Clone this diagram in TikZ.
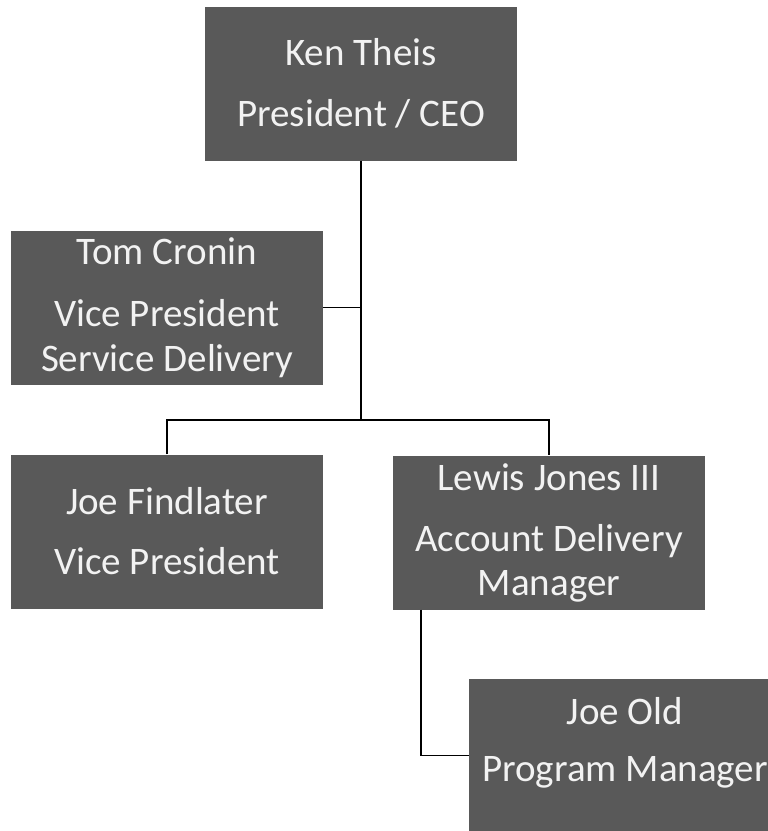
\documentclass[tikz,border=0pt]{standalone}
\usepackage{fontspec}
\setmainfont{Carlito}
\definecolor{boxgray}{HTML}{595959}
\definecolor{boxtext}{HTML}{F2F2F2}
\tikzset{
  orgbox/.style={draw=none, fill=boxgray, text=boxtext, minimum width=312pt, minimum height=154pt,
    align=center, inner sep=0pt, font=\fontsize{39}{47}\selectfont},
  conn/.style={draw=black, line width=1.6pt}
}
\begin{document}
\begin{tikzpicture}[x=1pt,y=-1pt]
\useasboundingbox (0,0) rectangle (768,831);
\clip (0,0) rectangle (768,831);
\node[orgbox] (ken) at (361,83.5) {Ken Theis\\[14pt]President / CEO};
\node[orgbox] (tom) at (167,307.5) {Tom Cronin\\[15pt]Vice President\\[-2pt]Service Delivery};
\node[orgbox] (joef) at (167,531.5) {Joe Findlater\\[13pt]Vice President};
\node[orgbox] (lewis) at (549,532.5) {Lewis Jones III\\[14pt]Account Delivery\\[-3pt]Manager};
\node[orgbox] (joeo) at (625,755.5) {Joe Old\\[10pt]Program Manager\\[-14pt]\mbox{}};
\coordinate (bus) at (361,420);
\draw[conn] (ken.south) -- (bus);
\draw[conn] (tom.east) -- (tom.east -| ken.south);
\draw[conn] (joef.north) |- (bus) -| (lewis.north);
\draw[conn] ([xshift=28pt]lewis.south west) |- (joeo.west);
\end{tikzpicture}
\end{document}
